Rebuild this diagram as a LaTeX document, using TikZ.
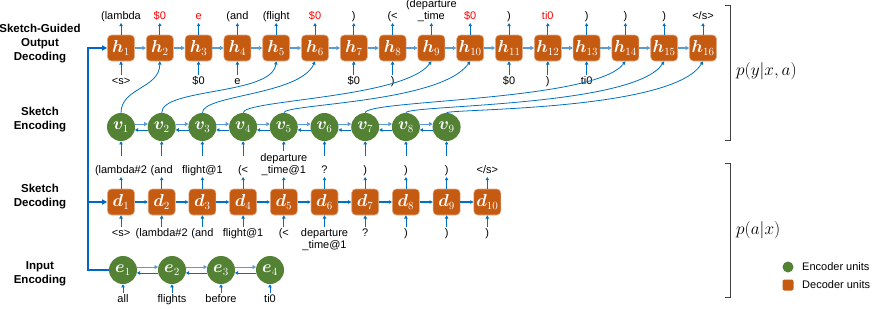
\documentclass[tikz,border=0pt]{standalone}
\usepackage{amsmath,bm}
\usepackage{fontspec}
\setmainfont{Liberation Sans}
\usetikzlibrary{arrows.meta,calc}
\definecolor{unitorange}{RGB}{197,90,17}
\definecolor{unitgreen}{RGB}{84,130,53}
\definecolor{linkblue}{RGB}{0,112,192}
\definecolor{flowblue}{RGB}{91,155,213}
\definecolor{trunkblue}{RGB}{0,102,204}
\definecolor{bracketgrey}{RGB}{64,64,64}
\begin{document}
\begin{tikzpicture}[x=1pt, y=-1pt,
    dec/.style={rectangle, rounded corners=4pt, draw=unitorange!50!white, line width=0.6pt, fill=unitorange,
                minimum width=27pt, minimum height=26pt, inner sep=0pt, text=white, font=\fontsize{16}{16}\selectfont},
    enc/.style={circle, fill=unitgreen, minimum size=28pt, inner sep=0pt, text=white, font=\fontsize{16}{16}\selectfont},
    tok/.style={inner sep=1pt, align=center, font=\fontsize{11}{12.5}\selectfont,
                execute at begin node={\vphantom{(}}, execute at end node={\vphantom{(}}},
    stage/.style={align=center, font=\fontsize{11.5}{14}\selectfont\bfseries},
    arr/.style={-{Triangle[length=3.2pt,width=3.4pt]}, linkblue, line width=0.8pt},
    flow/.style={-{Triangle[length=3.6pt,width=4pt]}, flowblue, line width=1.4pt},
    back/.style={-{Triangle[length=3.2pt,width=3.4pt]}, linkblue, line width=0.9pt},
    trunk/.style={trunkblue, line width=1.8pt}
]
\useasboundingbox (0,0) rectangle (872,308);

% stage names
\node[stage] (stageout) at (40,44) {Sketch-Guided\\Output\\Decoding};
\node[stage] (stagesenc) at (40,120) {Sketch\\Encoding};
\node[stage] (stagesdec) at (40,197) {Sketch\\Decoding};
\node[stage] (stageinp) at (40,274) {Input\\Encoding};

% sketch-guided output decoder
\foreach \i in {1,...,16}
  \node[dec] (h\i) at ({121+38.8*(\i-1)},48) {$\bm{h}_{\i}$};
\foreach \i [evaluate=\i as \j using int(\i+1)] in {1,...,15}
  \draw[flow] (h\i.east) -- (h\j.west);
\foreach \i/\txt in {1/{(lambda}, 2/{\textcolor{red}{\$0}}, 3/{\textcolor{red}{e}}, 4/{(and}, 5/{(flight},
    6/{\textcolor{red}{\$0}}, 7/{)}, 8/{(<}, 9/{(departure\\\_time}, 10/{\textcolor{red}{\$0}}, 11/{)},
    12/{\textcolor{red}{ti0}}, 13/{)}, 14/{)}, 15/{)}, 16/{</s>}} {
  \node[tok, anchor=south] (ho\i) at ({121+38.8*(\i-1)},23) {\txt};
  \draw[arr] (h\i.north) -- (ho\i.south);
}
\foreach \i/\txt in {1/{<s>}, 3/{\$0}, 4/{e}, 7/{\$0}, 8/{)}, 11/{\$0}, 12/{)}, 13/{ti0}} {
  \node[tok, anchor=north] (hi\i) at ({121+38.8*(\i-1)},75) {\txt};
  \draw[arr] (hi\i.north) -- (h\i.south);
}

% sketch encoder
\foreach \i in {1,...,9}
  \node[enc] (v\i) at ({121+40.7*(\i-1)},127) {$\bm{v}_{\i}$};
\foreach \i [evaluate=\i as \j using int(\i+1)] in {1,...,8} {
  \draw[flow, line width=1.1pt] (v\i.12) -- (v\j.168);
  \draw[back] (v\j.192) -- (v\i.348);
}

% copy links from sketch encoder to output decoder
\draw[arr] (v1.north) .. controls +(0,-25) and +(0,27) .. (h2.south);
\draw[arr] (v2.north) .. controls +(0,-25) and +(-4,34) .. (h5.south);
\draw[arr] (v3.north) .. controls +(0,-18) and +(-15,34) .. (h6.south);
\draw[arr] (v4.north) .. controls +(0,-13) and +(-27,37) .. (h9.south);
\draw[arr] (v5.north) .. controls +(0,-9) and +(-30,42) .. (h10.south);
\draw[arr] (v7.north) .. controls +(0,-13) and +(-30,40) .. (h14.south);
\draw[arr] (v8.north) .. controls +(0,-8) and +(-30,46) .. (h15.south);
\draw[arr] (v9.north) .. controls +(0,-4) and +(-30,50) .. (h16.south);

% sketch decoder
\foreach \i in {1,...,10}
  \node[dec] (d\i) at ({121+40.7*(\i-1)},202) {$\bm{d}_{\i}$};
\foreach \i [evaluate=\i as \j using int(\i+1)] in {1,...,9}
  \draw[arr, line width=1.1pt] (d\i.east) -- (d\j.west);
\foreach \i/\txt in {1/{(lambda\#2}, 2/{(and}, 3/{flight@1}, 4/{(<}, 5/{departure\\\_time@1},
    6/{?}, 7/{)}, 8/{)}, 9/{)}, 10/{</s>}} {
  \node[tok, anchor=south] (do\i) at ({121+40.7*(\i-1)},177) {\txt};
  \draw[arr] (d\i.north) -- (do\i.south);
}
\foreach \i/\s in {1/8, 2/8, 3/8, 4/8, 5/1, 6/8, 7/8, 8/8, 9/8}
  \draw[arr, shorten <=\s pt] (do\i.north) -- (v\i.south);
\foreach \i/\txt in {1/{<s>}, 2/{(lambda\#2}, 3/{(and}, 4/{flight@1}, 5/{(<}, 6/{departure\\\_time@1},
    7/{?}, 8/{)}, 9/{)}, 10/{)}} {
  \node[tok, anchor=north] (di\i) at ({121+40.7*(\i-1)},227) {\txt};
  \draw[arr] (di\i.north) -- (d\i.south);
}

% input encoder
\foreach \i in {1,...,4}
  \node[enc] (e\i) at ({123+49*(\i-1)},270) {$\bm{e}_{\i}$};
\foreach \i [evaluate=\i as \j using int(\i+1)] in {1,...,3} {
  \draw[flow, line width=1.1pt] (e\i.12) -- (e\j.168);
  \draw[back] (e\j.192) -- (e\i.348);
}
\foreach \i/\txt in {1/all, 2/flights, 3/before, 4/ti0} {
  \node[tok, anchor=north] (ei\i) at ({123+49*(\i-1)},293) {\txt};
  \draw[arr] (ei\i.north) -- (e\i.south);
}

% encoder state feeds both decoders
\coordinate (trunktop) at (88,48);
\coordinate (trunkbot) at (88,270);
\draw[trunk, line join=miter, -{Triangle[length=5pt,width=5pt]}] (e1.west) -- (trunkbot) -- (trunktop) -- (h1.west);
\draw[trunk, -{Triangle[length=5pt,width=5pt]}] (trunkbot |- d1.west) -- (d1.west);

% probability brackets
\draw[bracketgrey, line width=0.9pt] (725,5) -- (730,5) -- (730,140) -- (725,140);
\draw[bracketgrey, line width=0.9pt] (725,163) -- (730,163) -- (730,297) -- (725,297);
\node[anchor=west, inner sep=0pt, font=\fontsize{18}{18}\selectfont] (pyxa) at (736,71) {$p(y|x,a)$};
\node[anchor=west, inner sep=0pt, font=\fontsize{18}{18}\selectfont] (pax) at (736,230) {$p(a|x)$};

% legend
\node[circle, fill=unitgreen, minimum size=11pt, inner sep=0pt] (legenc) at (788,267) {};
\node[rectangle, rounded corners=2pt, fill=unitorange, minimum size=11pt, inner sep=0pt] (legdec) at (788,285) {};
\node[anchor=west, inner sep=0pt, font=\fontsize{11}{12}\selectfont] (legenctxt) at (802,267) {Encoder units};
\node[anchor=west, inner sep=0pt, font=\fontsize{11}{12}\selectfont] (legdectxt) at (802,285) {Decoder units};
\end{tikzpicture}
\end{document}
